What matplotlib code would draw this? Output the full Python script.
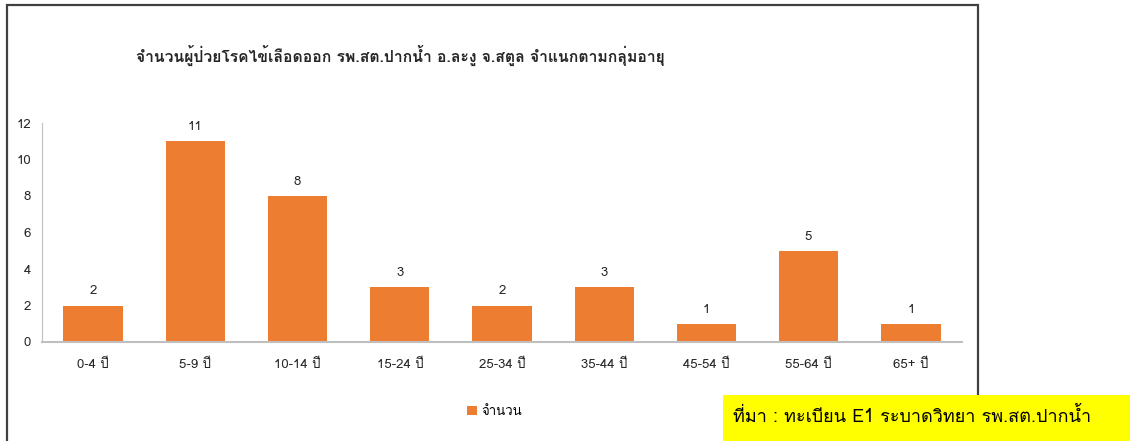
import matplotlib
matplotlib.use("Agg")
import matplotlib.pyplot as plt
from matplotlib import font_manager
from matplotlib.ft2font import FT2Font
from matplotlib.patches import Rectangle

categories = ["0-4 ปี", "5-9 ปี", "10-14 ปี", "15-24 ปี", "25-34 ปี",
              "35-44 ปี", "45-54 ปี", "55-64 ปี", "65+ ปี"]
values = [2, 11, 8, 3, 2, 3, 1, 5, 1]
y_ticks = [0, 2, 4, 6, 8, 10, 12]
title = "จำนวนผู้ป่วยโรคไข้เลือดออก รพ.สต.ปากน้ำ อ.ละงู จ.สตูล จำแนกตามกลุ่มอายุ"
series_name = "จำนวน"
source_text = "ที่มา : ทะเบียน E1 ระบาดวิทยา รพ.สต.ปากน้ำ"

# find a font with Thai glyphs
thai_fams = []
for f in font_manager.fontManager.ttflist:
    try:
        cm = FT2Font(f.fname).get_charmap()
        if 0x0E08 in cm and 0x0E33 in cm:
            if f.name not in thai_fams:
                thai_fams.append(f.name)
    except Exception:
        pass
fams = thai_fams + ["DejaVu Sans"]
plt.rcParams["font.family"] = fams

W, H = 1130, 441
fig = plt.figure(figsize=(W / 100, H / 100), dpi=100)

def fx(px):
    return px / W

def fy(py):
    return 1 - py / H

# outer chart border
fig.patches.append(Rectangle((fx(7), fy(445)), fx(978) - fx(7), fy(5) - fy(445),
                             transform=fig.transFigure, fill=False,
                             edgecolor="#404040", linewidth=1.6, zorder=0))

ax = fig.add_axes([fx(42), fy(342), fx(962) - fx(42), fy(123) - fy(342)])
x = list(range(len(categories)))
bars = ax.bar(x, values, width=0.58, color="#ED7D31", label=series_name, zorder=2)
for xi, v in zip(x, values):
    ax.text(xi, v + 0.45, str(v), ha="center", va="bottom", fontsize=9.5, color="#262626")
ax.set_xlim(-0.5, len(categories) - 0.5)
ax.set_ylim(0, 12)
ax.set_yticks(y_ticks)
ax.set_yticklabels([str(t) for t in y_ticks], fontsize=9.5, color="#262626")
ax.set_xticks(x)
ax.set_xticklabels(categories, fontsize=9.5, color="#262626")
ax.tick_params(axis="both", length=0)
ax.tick_params(axis="x", pad=12)
ax.tick_params(axis="y", pad=8)
for s in ["top", "right"]:
    ax.spines[s].set_visible(False)
ax.spines["left"].set_color("#BFBFBF")
ax.spines["bottom"].set_color("#BFBFBF")
ax.spines["bottom"].set_linewidth(1.5)

fig.text(fx(400), fy(55), title, ha="center", va="center", fontsize=11.3,
         fontweight="bold", color="#262626")

fig.legend(handles=[bars], labels=[series_name], loc="center",
           bbox_to_anchor=(fx(495), fy(412)), frameon=False, fontsize=9.5,
           handlelength=0.7, handleheight=0.7, handletextpad=0.4)

# source box
fig.patches.append(Rectangle((fx(723), fy(441)), fx(1130) - fx(723), fy(395) - fy(441),
                             transform=fig.transFigure, facecolor="#FFFF00",
                             edgecolor="none", zorder=3))
fig.text(fx(733), fy(416), source_text, ha="left", va="center", fontsize=13,
         color="black", zorder=4)

fig.savefig("out.png", dpi=100)
